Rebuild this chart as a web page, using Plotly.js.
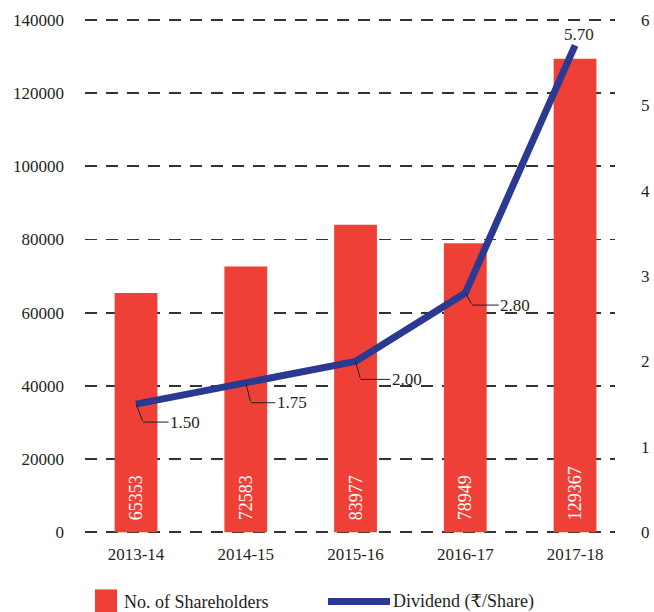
<!DOCTYPE html>
<html>
<head>
<meta charset="utf-8">
<script src="https://cdn.plot.ly/plotly-3.0.1.min.js"></script>
<style>html,body{margin:0;padding:0;background:#fff}</style>
</head>
<body>
<div id="chart" style="width:654px;height:612px"></div>
<script>
var years = ["2013-14", "2014-15", "2015-16", "2016-17", "2017-18"];
var shareholders = [65353, 72583, 83977, 78949, 129367];
var dividend = [1.50, 1.75, 2.00, 2.80, 5.70];
var dividendLabels = ["1.50", "1.75", "2.00", "2.80", "5.70"];
var leftTicks = [0, 20000, 40000, 60000, 80000, 100000, 120000, 140000];
var rightTicks = [0, 1, 2, 3, 4, 5, 6];
var seriesNames = ["No. of Shareholders", "Dividend (₹/Share)"];

var FONT = "'Liberation Serif', 'DejaVu Serif', serif";
var RED = "#EE4037";
var BLUE = "#2B3990";
var INK = "#231f20";

var bars = {
  type: "bar",
  name: seriesNames[0],
  x: years,
  y: shareholders,
  width: 0.39,
  marker: {color: RED},
  text: shareholders.map(function (v) { return "\u00a0\u00a0" + v; }),
  textposition: "inside",
  insidetextanchor: "start",
  textangle: -90,
  constraintext: "none",
  textfont: {family: FONT, size: 18, color: "#ffffff"},
  showlegend: false,
  hoverinfo: "x+y"
};
var line = {
  type: "scatter",
  mode: "lines",
  name: seriesNames[1],
  x: years,
  y: dividend,
  yaxis: "y2",
  line: {color: BLUE, width: 7},
  showlegend: false,
  hoverinfo: "x+y"
};

// label placement (pixel offsets): [leader dx, leader dy, text offset from bend]
var leader = [[7, 18, 42], [5, 20, 41], [5, 18, 46], [7, 12, 43]];
var annotations = [];
for (var i = 0; i < 4; i++) {
  var o = leader[i];
  annotations.push({
    x: years[i], y: dividend[i], xref: "x", yref: "y2",
    text: "", showarrow: true, arrowhead: 0, arrowwidth: 1, arrowcolor: INK,
    ax: o[0], ay: o[1], standoff: 0
  });
  annotations.push({
    x: years[i], y: dividend[i], xref: "x", yref: "y2",
    xshift: o[0], yshift: -o[1],
    text: dividendLabels[i], showarrow: true, arrowhead: 0, arrowwidth: 1, arrowcolor: INK,
    ax: o[2], ay: 0, standoff: 0,
    font: {family: FONT, size: 17, color: INK}
  });
}
annotations.push({
  x: years[4], y: dividend[4], xref: "x", yref: "y2",
  text: dividendLabels[4], showarrow: false, xshift: 4, yshift: 11,
  font: {family: FONT, size: 17, color: INK}
});
// custom legend texts
annotations.push({
  xref: "paper", yref: "paper", x: 0.0698, y: -0.1309, xanchor: "left", yanchor: "middle",
  text: seriesNames[0], showarrow: false, font: {family: FONT, size: 18, color: INK}
});
annotations.push({
  xref: "paper", yref: "paper", x: 0.5774, y: -0.1309, xanchor: "left", yanchor: "middle",
  text: seriesNames[1], showarrow: false, font: {family: FONT, size: 18, color: INK}
});

var shapes = [
  {type: "rect", xref: "paper", yref: "paper", x0: 0.0189, x1: 0.0604, y0: -0.1562, y1: -0.1074,
   fillcolor: RED, line: {width: 0}},
  {type: "line", xref: "paper", yref: "paper", x0: 0.4585, x1: 0.5755, y0: -0.1309, y1: -0.1309,
   line: {color: BLUE, width: 7}}
];

var layout = {
  width: 654, height: 612,
  margin: {l: 85, r: 39, t: 18, b: 78},
  paper_bgcolor: "#fff", plot_bgcolor: "#fff",
  font: {family: FONT, size: 17, color: INK},
  showlegend: false,
  xaxis: {
    type: "category",
    range: [-0.465, 4.364],
    showgrid: false, zeroline: false, showline: false,
    ticks: "", ticklabelstandoff: 8,
    tickfont: {family: FONT, size: 17, color: INK}
  },
  yaxis: {
    range: [-500, 140500],
    tickvals: leftTicks,
    tickformat: "d",
    showgrid: true, gridcolor: "#333333", gridwidth: 1.8, griddash: "12px,9px",
    zeroline: false, showline: false, ticks: "",
    ticklabelstandoff: 20,
    tickfont: {family: FONT, size: 17, color: INK}
  },
  yaxis2: {
    range: [-0.021429, 6.021429],
    tickvals: rightTicks,
    overlaying: "y", side: "right",
    showgrid: false, zeroline: false, showline: false, ticks: "",
    ticklabelstandoff: 25,
    tickfont: {family: FONT, size: 17, color: INK}
  },
  shapes: shapes,
  annotations: annotations
};

Plotly.newPlot("chart", [bars, line], layout, {displayModeBar: false, staticPlot: true});
</script>
</body>
</html>
